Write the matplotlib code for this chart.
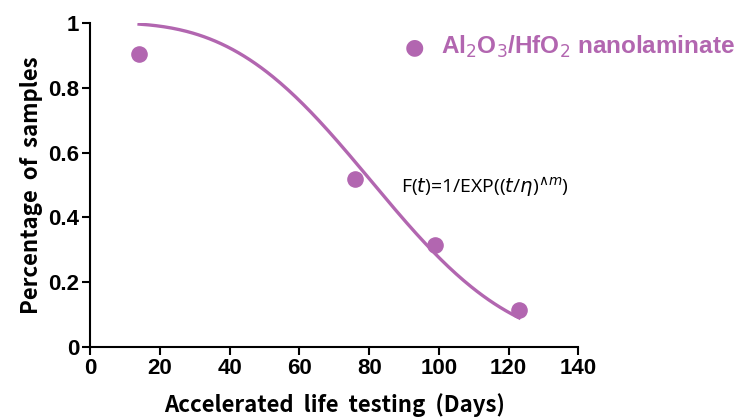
import numpy as np
import matplotlib.pyplot as plt

# mesures (jours, fraction d'echantillons survivants)
days = [14, 76, 99, 123]
fraction = [0.905, 0.519, 0.315, 0.114]

# parametres de la loi de Weibull
eta = 92.0
m = 3.03
t_fit_start, t_fit_end = 14, 123

xticks = [0, 20, 40, 60, 80, 100, 120, 140]
yticks = [0, 0.2, 0.4, 0.6, 0.8, 1]
ytick_labels = ["0", "0.2", "0.4", "0.6", "0.8", "1"]

purple = "#B266B0"
cjk = ["Noto Sans CJK JP", "DejaVu Sans"]

fig = plt.figure(figsize=(7.34, 4.19), dpi=100)
ax = fig.add_axes([0.123, 0.172, 0.665, 0.773])

t = np.linspace(t_fit_start, t_fit_end, 200)
ax.plot(t, np.exp(-(t / eta) ** m), color=purple, lw=2.4, zorder=2)
ax.scatter(days, fraction, s=120, color=purple, zorder=3, clip_on=False)

ax.set_xlim(0, 140)
ax.set_ylim(0, 1)
ax.set_xticks(xticks)
ax.set_yticks(yticks)
ax.set_yticklabels(ytick_labels)
for lab in ax.get_xticklabels() + ax.get_yticklabels():
    lab.set_fontfamily("Liberation Sans")
    lab.set_fontweight("bold")
    lab.set_fontsize(16)
ax.tick_params(direction="out", length=6, width=1.5, pad=2)
for side in ["top", "right"]:
    ax.spines[side].set_visible(False)
for side in ["left", "bottom"]:
    ax.spines[side].set_linewidth(1.5)

ax.set_xlabel("Accelerated  life  testing  (Days)", fontsize=16, fontweight="bold",
              family=cjk, labelpad=10)
ax.set_ylabel("Percentage  of  samples", fontsize=16, fontweight="bold",
              family=cjk, labelpad=4)

ax.text(89, 0.49, r"F($\it{t}$)=1/EXP(($\it{t}$/$\it{\eta}$)$^{\wedge \it{m}}$)",
        fontsize=14, family="Open Sans", ha="left", va="center")

# legende a droite, hors des axes
fig.text(0.565, 0.888, "\u25CF", color=purple, fontsize=16, ha="center", va="center",
         family="DejaVu Sans")
fig.text(0.601, 0.888, r"Al$_2$O$_3$/HfO$_2$ nanolaminate", color=purple,
         fontsize=17.5, fontweight="bold", family="Liberation Sans", va="center")

fig.savefig("out.png", dpi=100)
